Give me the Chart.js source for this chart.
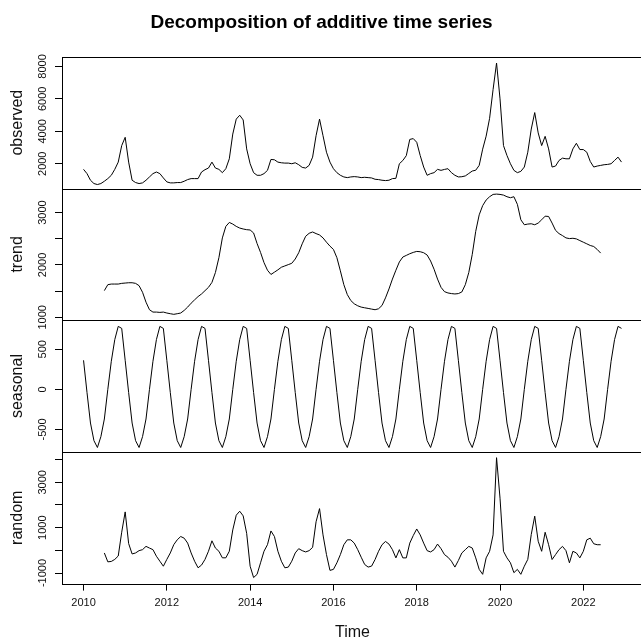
<!DOCTYPE html>
<html>
<head>
<meta charset="utf-8">
<script src="https://cdn.jsdelivr.net/npm/chart.js"></script>
<style>
    html, body { margin: 0; padding: 0; overflow: hidden; background: #fff; }
</style>
</head>
<body>
<canvas id="decompChart" width="705" height="660"></canvas>

<script>
    // monthly series, Jan 2010 .. Dec 2022
    const startYear = 2010;
    const frequency = 12;

    const observed = [
        1654, 1390, 983, 779, 718, 779, 921, 1084, 1288, 1654, 2100, 3120,
        3630, 2100, 983, 840, 779, 820, 983, 1186, 1390, 1491, 1390, 1125,
        881, 820, 820, 840, 840, 921, 1023, 1084, 1084, 1084, 1491, 1634,
        1735, 2100, 1735, 1654, 1450, 1695, 2305, 3830, 4750, 4990, 4700, 2915,
        2000, 1450, 1288, 1288, 1390, 1593, 2265, 2245, 2100, 2060, 2040, 2040,
        2000, 2060, 1940, 1776, 1735, 1900, 2407, 3730, 4750, 3730, 2712, 2100,
        1695, 1450, 1288, 1186, 1145, 1186, 1206, 1186, 1145, 1165, 1145, 1125,
        1043, 1023, 983, 962, 983, 1084, 1100, 2000, 2200, 2500, 3500, 3550,
        3323, 2509, 1797, 1288, 1390, 1450, 1654, 1593, 1650, 1695, 1450, 1288,
        1186, 1200, 1250, 1400, 1550, 1600, 1900, 2900, 3700, 4800, 6579, 8207,
        6000, 3119, 2509, 2000, 1593, 1450, 1532, 1797, 2712, 4137, 5154, 3900,
        3119, 3689, 2916, 1797, 1858, 2203, 2346, 2305, 2305, 2916, 3262, 2875,
        2875, 2712, 2142, 1797, 1858, 1898, 1939, 1959, 2000, 2203, 2407, 2102
    ];

    // trend and random exist from Jul 2010 to Jun 2022
    const trendOffset = 6;
    const trend = [
        1510, 1623, 1635, 1635, 1635, 1648,
        1654, 1660, 1660, 1648, 1604, 1478, 1289, 1145, 1100, 1100, 1094, 1100,
        1082, 1069, 1057, 1069, 1082, 1132, 1195, 1270, 1333, 1396, 1446, 1509,
        1572, 1667, 1855, 2138, 2516, 2736, 2811, 2780, 2736, 2704, 2686, 2673,
        2667, 2610, 2409, 2239, 2044, 1899, 1818, 1862, 1906, 1956, 1981, 2006,
        2031, 2113, 2233, 2403, 2547, 2604, 2629, 2598, 2572, 2516, 2434, 2359,
        2296, 2138, 1887, 1623, 1434, 1321, 1258, 1220, 1195, 1182, 1170, 1157,
        1145, 1163, 1226, 1371, 1541, 1730, 1899, 2057, 2151, 2182, 2214, 2239,
        2258, 2252, 2233, 2189, 2075, 1918, 1730, 1572, 1490, 1465, 1453, 1446,
        1453, 1484, 1623, 1855, 2201, 2642, 2956, 3132, 3239, 3302, 3346, 3352,
        3346, 3333, 3302, 3283, 3302, 3157, 2862, 2767, 2780, 2786, 2767, 2799,
        2862, 2931, 2925, 2799, 2660, 2598, 2560, 2516, 2503, 2509, 2497, 2465,
        2434, 2403, 2371, 2352, 2296, 2226
    ];

    // one value per month, Jan..Dec
    const seasonalFigure = [362, -40, -420, -640, -725, -590, -370, 0, 350, 620, 785, 760];

    const random = [
        -116, -507, -490, -400, -250, 800,
        1695, 300, -160, -115, -14, 30, 175, 100, 30, -260, -480, -700,
        -400, -115, 250, 465, 610, 536, 320, -115, -480, -770, -650, -400,
        -40, 420, 100, -40, -330, -330, -40, 900, 1550, 1725, 1520, 750,
        -700, -1200, -1060, -550, -40, 250, 855, 610, -40, -480, -770, -740,
        -480, -115, 73, -14, -70, -14, 130, 1260, 1840, 681, -188, -884,
        -840, -550, -188, 247, 464, 464, 319, 30, -304, -623, -739, -695,
        -405, -43, 247, 391, 276, 30, -333, 30, -333, -333, 319, 652,
        942, 681, 319, -14, -72, 30, 276, 73, -188, -304, -478, -739,
        -449, -116, 30, 174, 102, -333, -840, -1058, -333, -43, 681, 4086,
        2300, -43, -333, -550, -985, -840, -1058, -700, -400, 700, 1507, 400,
        -43, 797, 247, -405, -188, 30, 174, -14, -550, -43, -116, -333,
        -43, 464, 536, 290, 247, 247
    ];

    const xTicks = [2010, 2012, 2014, 2016, 2018, 2020, 2022];
    const observedTicks = [2000, 4000, 6000, 8000];
    const trendTicks = [1000, 1500, 2000, 2500, 3000];
    const trendLabels = [1000, 2000, 3000];
    const seasonalTicks = [-500, 0, 500];
    const randomTicks = [-1000, 0, 1000, 2000, 3000, 4000];
    const randomLabels = [-1000, 1000, 3000];

    const FONT = "'Liberation Sans', Arial, sans-serif";
    const tickFont = { family: FONT, size: 11 };
    const labelFont = { family: FONT, size: 16 };
    const panelIds = ['yObserved', 'yTrend', 'ySeasonal', 'yRandom'];

    const time = observed.map((v, i) => startYear + i / frequency);

    function toPoints(values, offset) {
        return values.map((v, i) => ({ x: time[i + offset], y: v }));
    }

    function lineSet(points, axisId) {
        return {
            data: points,
            yAxisID: axisId,
            borderColor: '#000',
            borderWidth: 1,
            pointRadius: 0,
            fill: false,
            tension: 0
        };
    }

    function panelAxis(title, min, max, ticks, labels, weight, pad) {
        return {
            type: 'linear',
            position: 'left',
            stack: 'panels',
            stackWeight: 1,
            weight: weight,
            min: min,
            max: max,
            afterBuildTicks: s => { s.ticks = ticks.map(v => ({ value: v })); },
            afterFit: s => { s.width = 62; },
            grid: { drawOnChartArea: false, drawTicks: true, tickLength: 7, color: '#000' },
            border: { display: false },
            ticks: {
                autoSkip: false,
                minRotation: 90,
                maxRotation: 90,
                crossAlign: 'center',
                padding: pad,
                font: tickFont,
                color: '#111',
                callback: v => labels.includes(v) ? String(v) : ''
            },
            title: { display: true, text: title, font: labelFont, color: '#111', padding: { top: 8, bottom: 0 } }
        };
    }

    // box around every panel: one line per boundary so shared edges are not doubled
    const panelBox = {
        id: 'panelBox',
        afterDraw(chart) {
            const ctx = chart.ctx;
            const { left, right, top, bottom } = chart.chartArea;
            const ys = [Math.round(top)];
            panelIds.forEach(id => ys.push(Math.round(chart.scales[id].bottom)));
            ctx.save();
            ctx.strokeStyle = '#000';
            ctx.lineWidth = 1;
            ctx.beginPath();
            ys.forEach(y => {
                ctx.moveTo(Math.round(left), y + 0.5);
                ctx.lineTo(Math.round(right) + 1, y + 0.5);
            });
            const x = Math.round(left) + 0.5;
            ctx.moveTo(x, Math.round(top));
            ctx.lineTo(x, Math.round(bottom) + 1);
            ctx.moveTo(Math.round(right) + 0.5, Math.round(top));
            ctx.lineTo(Math.round(right) + 0.5, Math.round(bottom) + 1);
            ctx.stroke();
            ctx.restore();
        }
    };

    render_chart();

    function render_chart() {
        const ctx = document.getElementById('decompChart').getContext('2d');
        new Chart(ctx, {
            type: 'line',
            data: {
                datasets: [
                    lineSet(toPoints(observed, 0), 'yObserved'),
                    lineSet(toPoints(trend, trendOffset), 'yTrend'),
                    lineSet(time.map((t, i) => ({ x: t, y: seasonalFigure[i % frequency] })), 'ySeasonal'),
                    lineSet(toPoints(random, trendOffset), 'yRandom')
                ]
            },
            options: {
                responsive: false,
                animation: false,
                devicePixelRatio: 1,
                layout: { padding: { top: 0, left: 0, right: 62, bottom: 18 } },
                plugins: {
                    legend: { display: false },
                    tooltip: { enabled: false },
                    title: {
                        display: true,
                        text: 'Decomposition of additive time series',
                        font: { family: FONT, size: 19, weight: 'bold' },
                        color: '#000',
                        padding: { top: 11, bottom: 23 }
                    }
                },
                scales: {
                    x: {
                        type: 'linear',
                        min: 2009.483,
                        max: 2023.433,
                        afterBuildTicks: s => { s.ticks = xTicks.map(v => ({ value: v })); },
                        grid: { drawOnChartArea: false, tickLength: 7, color: '#000' },
                        border: { display: false },
                        ticks: { autoSkip: false, maxRotation: 0, padding: 6, font: tickFont, color: '#111', callback: v => String(v) },
                        title: { display: true, text: 'Time', font: labelFont, color: '#111', padding: { top: 7, bottom: 0 } }
                    },
                    yRandom: panelAxis('random', -1467, 4341, randomTicks, randomLabels, 1, -1.8),
                    ySeasonal: panelAxis('seasonal', -780, 862, seasonalTicks, seasonalTicks, 2, 1.3),
                    yTrend: panelAxis('trend', 945, 3459, trendTicks, trendLabels, 3, 0),
                    yObserved: panelAxis('observed', 474, 8592, observedTicks, observedTicks, 4, 0)
                }
            },
            plugins: [panelBox]
        });
    }
</script>
</body>
</html>
